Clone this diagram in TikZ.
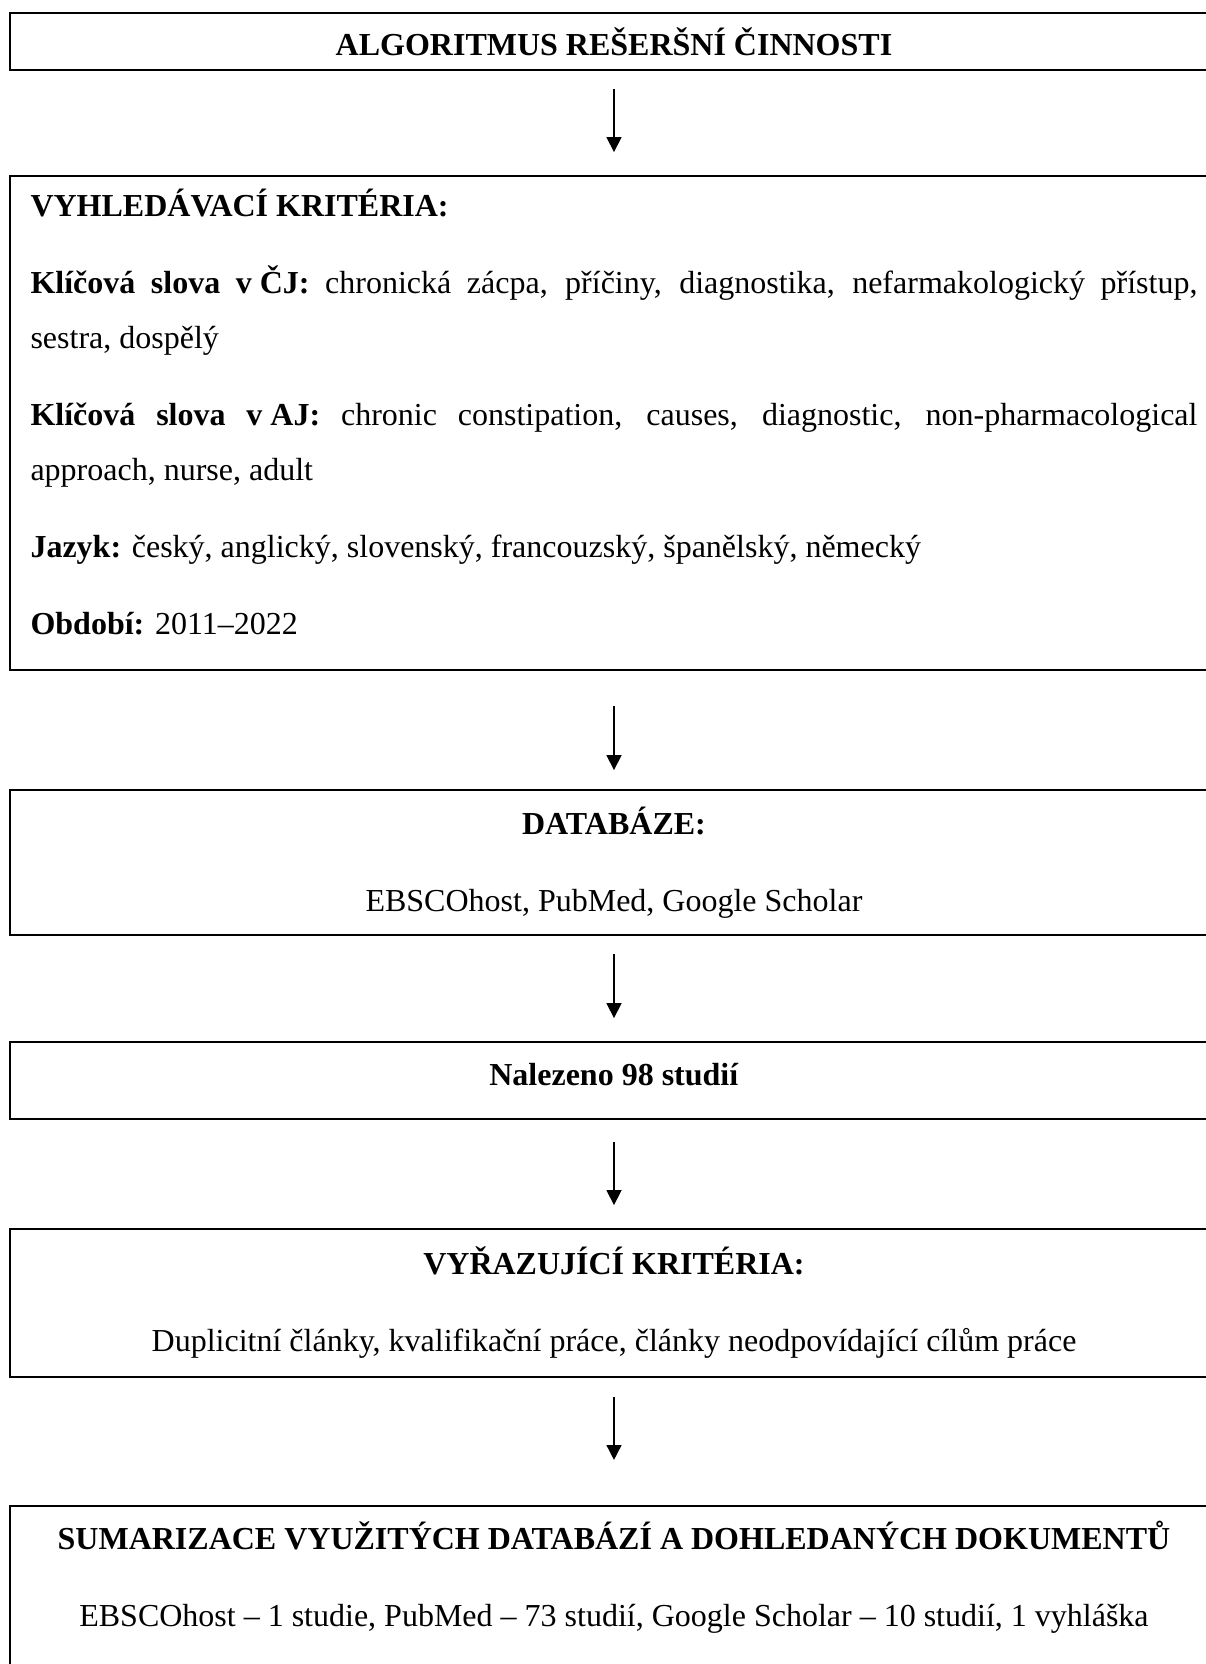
\documentclass[tikz,border=0pt]{standalone}
\usepackage{fontspec}
\setmainfont{Liberation Serif}
\usetikzlibrary{arrows.meta, positioning}

\begin{document}
\begin{tikzpicture}[
  x=0.375pt, y=-0.375pt,
  font=\fontsize{12}{14}\selectfont,
  % Node styles
  stage/.style   = {rectangle, draw, line width=0.75pt, minimum width=453pt,
                    align=center, inner xsep=7.7pt, inner ysep=4pt, anchor=north},
  listbox/.style = {stage, text width=437.6pt, align=justify,
                    font=\fontsize{12}{20.6}\selectfont},
  % Arrow styles
  flow/.style    = {-{Triangle[length=5.6pt, width=5.6pt]}, line width=0.6pt}
]
\useasboundingbox (0,0) rectangle (1205,1664);

% =========================== STAGES ===========================
\node[stage, minimum height=21.4pt] (algo) at (614,12)
  {\textbf{ALGORITMUS REŠERŠNÍ ČINNOSTI}};

\node[listbox, minimum height=185.25pt] (crit) at (614,175)
  {\textbf{VYHLEDÁVACÍ KRITÉRIA:}\par\vspace{8.3pt}
   \textbf{Klíčová slova \mbox{v ČJ:}} chronická zácpa, příčiny, diagnostika, nefarmakologický přístup,\linebreak sestra, dospělý\par\vspace{8.3pt}
   \textbf{Klíčová slova \mbox{v AJ:}} chronic constipation, causes, diagnostic, non-pharmacological\linebreak approach, nurse, adult\par\vspace{8.3pt}
   \textbf{Jazyk:} český, anglický, slovenský, francouzský, španělský, německý\par\vspace{8.3pt}
   \textbf{Období:} 2011–2022\par\vspace{8.25pt}\nointerlineskip\hbox{}};

\node[stage, minimum height=54.4pt] (db) at (614,789)
  {\textbf{DATABÁZE:}\\[14.9pt] EBSCOhost, PubMed, Google Scholar};

\node[stage, minimum height=28.9pt, text depth=4.9pt] (found) at (614,1041)
  {\textbf{Nalezeno 98 studií}};

\node[stage, minimum height=55.5pt] (excl) at (614,1228)
  {\textbf{VYŘAZUJÍCÍ KRITÉRIA:}\\[14.9pt] Duplicitní články, kvalifikační práce, články neodpovídající cílům práce};

% last box runs past the lower edge
\node[stage, inner ysep=5.5pt, text depth=60pt] (summ) at (614,1505)
  {\textbf{SUMARIZACE VYUŽITÝCH DATABÁZÍ A DOHLEDANÝCH DOKUMENTŮ}\\[14.9pt] EBSCOhost – 1 studie, PubMed – 73 studií, Google Scholar – 10 studií, 1 vyhláška};

% =========================== ARROWS ===========================
\draw[flow, shorten <=6.75pt, shorten >=8.6pt] (algo)  -- (crit);
\draw[flow, shorten <=13.1pt, shorten >=7.1pt] (crit)  -- (db);
\draw[flow, shorten <=6.75pt, shorten >=8.6pt] (db)    -- (found);
\draw[flow, shorten <=8.25pt, shorten >=8.6pt] (found) -- (excl);
\draw[flow, shorten <=7.1pt,  shorten >=16.9pt] (excl) -- (summ);

\end{tikzpicture}
\end{document}
